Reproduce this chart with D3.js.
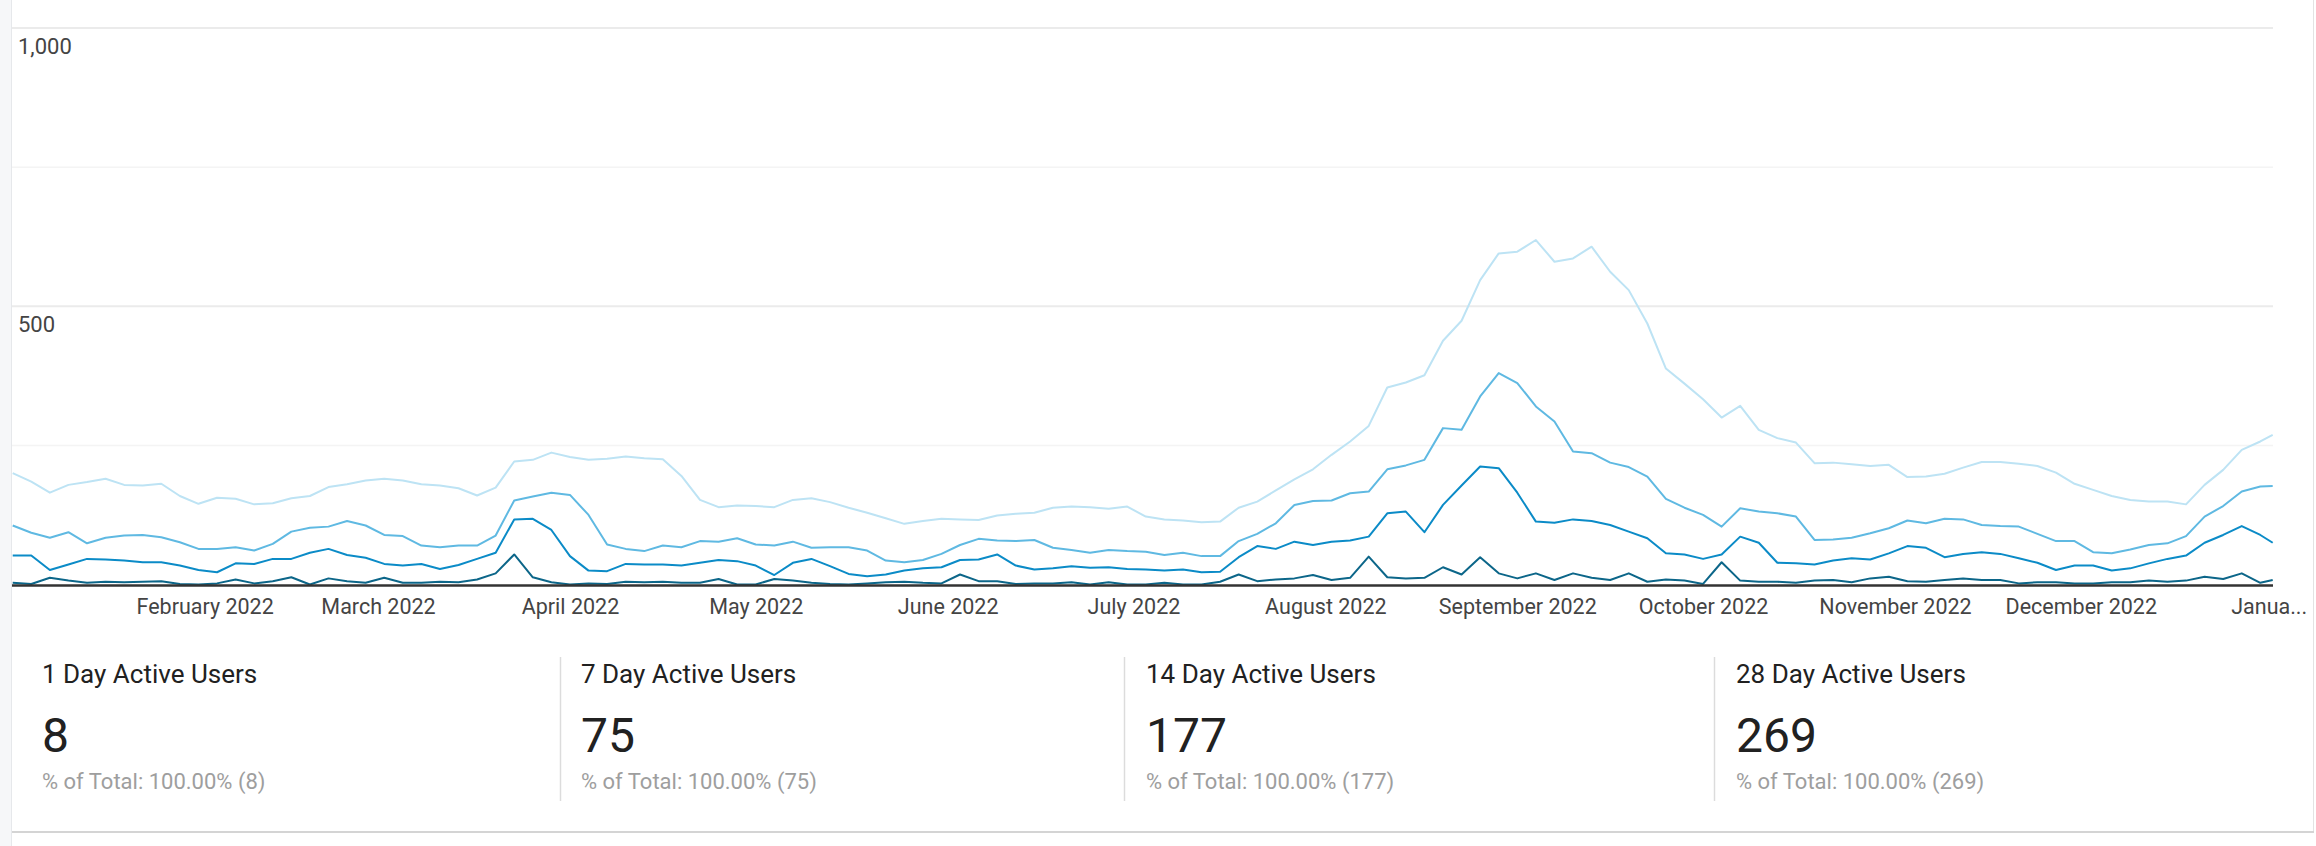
<!DOCTYPE html>
<html>
<head>
<meta charset="utf-8">
<script src="https://cdn.jsdelivr.net/npm/d3@7"></script>
<style>
  html, body { margin: 0; padding: 0; background: #ffffff; }
  svg { display: block; font-family: Roboto, "Noto Sans", Arial, sans-serif; }
</style>
</head>
<body>
<svg id="chart" width="2316" height="846"></svg>
<script>
// ---- DATA ----
// Sampling days (offset in days from 1 Jan 2022), every 3 days, last point 1 Jan 2023
const dayOffsets = [0,3,6,9,12,15,18,21,24,27,30,33,36,39,42,45,48,51,54,57,
  60,63,66,69,72,75,78,81,84,87,90,93,96,99,102,105,108,111,114,117,
  120,123,126,129,132,135,138,141,144,147,150,153,156,159,162,165,168,171,174,177,
  180,183,186,189,192,195,198,201,204,207,210,213,216,219,222,225,228,231,234,237,
  240,243,246,249,252,255,258,261,264,267,270,273,276,279,282,285,288,291,294,297,
  300,303,306,309,312,315,318,321,324,327,330,333,336,339,342,345,348,351,354,357,
  360,363,365];

const users28 = [200,185,165,179,184,190,179,178,181,159,145,156,154,144,146,155,159,175,180,187,
  190,187,180,178,173,160,174,221,224,237,229,224,226,230,227,225,195,152,139,142,
  141,139,152,155,148,138,129,119,109,114,118,117,116,124,127,129,138,140,139,136,
  140,122,117,115,112,113,138,149,169,189,207,233,257,285,354,363,376,438,474,547,
  595,598,619,580,586,607,562,529,469,388,361,333,300,321,278,263,255,218,219,216,
  213,215,193,194,199,210,220,220,217,213,201,181,170,159,152,149,149,144,179,206,
  242,257,269];

const users14 = [106,93,84,94,74,84,88,89,85,76,64,64,67,61,73,95,102,104,114,106,
  89,87,70,67,70,70,88,151,158,165,161,125,72,64,60,70,67,78,77,83,
  72,70,77,66,67,67,61,43,40,44,55,71,82,79,78,80,66,62,57,62,
  60,59,53,57,51,51,78,91,110,143,150,151,164,167,207,214,224,281,278,338,
  380,362,320,293,239,236,219,211,194,154,138,125,104,137,131,128,122,80,81,84,
  92,101,115,110,118,117,107,105,104,91,78,78,58,56,63,71,74,87,122,141,
  167,176,177];

const users7 = [52,52,26,36,46,45,43,40,40,34,26,22,38,37,46,46,57,64,53,48,
  37,34,37,28,35,46,57,117,118,98,51,25,24,37,36,36,34,39,44,42,
  34,17,39,46,33,19,15,18,25,29,31,44,45,54,34,27,29,33,30,31,
  28,27,25,27,22,23,49,69,64,77,71,77,79,86,128,131,94,143,178,212,
  209,165,113,111,117,114,107,95,83,56,54,46,54,86,75,39,38,36,43,47,
  45,56,69,66,49,55,58,55,47,39,26,34,34,25,29,38,46,52,75,89,
  105,89,75];

const users1 = [3,1,12,7,3,5,4,5,6,1,0,2,9,2,6,13,0,11,6,3,
  12,3,3,5,4,9,20,54,13,4,0,2,1,5,4,5,3,3,10,0,
  0,10,7,3,1,0,2,4,5,3,2,18,6,6,1,2,2,4,0,4,
  0,0,3,0,0,5,18,6,9,11,17,8,12,50,13,11,12,31,18,49,
  20,11,20,8,20,12,8,20,5,9,7,1,40,7,5,5,3,7,8,4,
  11,14,6,5,8,11,8,8,2,4,4,2,2,4,4,7,5,7,14,10,
  20,3,8];

const yTickValues = [250, 500, 750, 1000];
const yLabelValues = [1000, 500];
const monthTicks = ["2022-02-01","2022-03-01","2022-04-01","2022-05-01","2022-06-01",
  "2022-07-01","2022-08-01","2022-09-01","2022-10-01","2022-11-01","2022-12-01","2023-01-01"];

const summaryTitles = ["1 Day Active Users", "7 Day Active Users", "14 Day Active Users", "28 Day Active Users"];
const summaryValues = [8, 75, 177, 269];

const seriesNames = ["28 Day", "14 Day", "7 Day", "1 Day"];
const seriesColors = ["#bde3f4", "#5fb9e2", "#0b8bc7", "#0c6689"];

// ---- DRAW ----
const svg = d3.select("#chart");
const W = 2316, H = 846;

const startDate = new Date(2022, 0, 1);
const dates = dayOffsets.map(d => d3.timeDay.offset(startDate, d));

const x = d3.scaleTime()
  .domain([startDate, new Date(2023, 0, 1)])
  .range([12.7, 2272.7]);
const y = d3.scaleLinear().domain([0, 1000]).range([584.5, 28]);

// page frame
svg.append("rect").attr("x", 0).attr("y", 0).attr("width", W).attr("height", H).attr("fill", "#ffffff");
svg.append("rect").attr("x", 0).attr("y", 0).attr("width", 11).attr("height", H).attr("fill", "#f6f7f9");
svg.append("line").attr("x1", 11.5).attr("x2", 11.5).attr("y1", 0).attr("y2", H)
  .attr("stroke", "#e6e8eb").attr("stroke-width", 1);
svg.append("line").attr("x1", 2313.5).attr("x2", 2313.5).attr("y1", 0).attr("y2", 833)
  .attr("stroke", "#e3e3e3").attr("stroke-width", 1);
svg.append("line").attr("x1", 12).attr("x2", 2314).attr("y1", 832).attr("y2", 832)
  .attr("stroke", "#d4d4d4").attr("stroke-width", 2);

// gridlines
svg.append("g").selectAll("line").data(yTickValues).join("line")
  .attr("x1", 12).attr("x2", 2273)
  .attr("y1", d => y(d)).attr("y2", d => y(d))
  .attr("stroke", d => d % 500 === 0 ? "#ebebeb" : "#f4f4f4")
  .attr("stroke-width", d => d % 500 === 0 ? 2 : 1.5);

// y labels inside plot
svg.append("g").selectAll("text").data(yLabelValues).join("text")
  .attr("x", 18).attr("y", d => y(d) + 26)
  .attr("font-size", 22).attr("fill", "#444")
  .text(d => d3.format(",")(d));

// lines
const allSeries = [users28, users14, users7, users1];
const line = d3.line()
  .x((d, i) => x(dates[i]))
  .y(d => y(d));
svg.append("g").selectAll("path").data(allSeries).join("path")
  .attr("d", d => line(d))
  .attr("fill", "none")
  .attr("stroke", (d, i) => seriesColors[i])
  .attr("stroke-width", 2)
  .attr("stroke-linejoin", "round");

// baseline
svg.append("line").attr("x1", 12).attr("x2", 2273).attr("y1", 585.5).attr("y2", 585.5)
  .attr("stroke", "#333").attr("stroke-width", 2.5);

// x axis
const fmt = d3.timeFormat("%B %Y");
const tickDates = monthTicks.map(s => d3.timeParse("%Y-%m-%d")(s));
const xAxis = d3.axisBottom(x)
  .tickValues(tickDates)
  .tickSize(0)
  .tickPadding(14)
  .tickFormat((d, i) => i === tickDates.length - 1 ? "Janua..." : fmt(d));
const gx = svg.append("g").attr("transform", "translate(0,585)").call(xAxis);
gx.select(".domain").remove();
gx.selectAll("text").attr("font-size", 21.5).attr("fill", "#444")
  .attr("font-family", "Roboto, 'Noto Sans', Arial, sans-serif");
gx.selectAll(".tick").filter((d, i) => i === tickDates.length - 1)
  .select("text").attr("text-anchor", "start").attr("x", -42);

// summary
const colX = [42, 581, 1146, 1736];
const dividerX = [560, 1124, 1714];
svg.append("g").selectAll("line").data(dividerX).join("line")
  .attr("x1", d => d + 0.5).attr("x2", d => d + 0.5).attr("y1", 657).attr("y2", 801)
  .attr("stroke", "#dcdcdc").attr("stroke-width", 1.5);

const cols = svg.append("g").selectAll("g").data(summaryTitles).join("g")
  .attr("transform", (d, i) => `translate(${colX[i]},0)`);
cols.append("text").attr("y", 683).attr("font-size", 26).attr("fill", "#212121")
  .text(d => d);
cols.append("text").attr("y", 752).attr("font-size", 48).attr("fill", "#212121")
  .text((d, i) => summaryValues[i]);
cols.append("text").attr("y", 789).attr("font-size", 22).attr("fill", "#9e9e9e")
  .text((d, i) => `% of Total: 100.00% (${summaryValues[i]})`);
</script>
</body>
</html>
